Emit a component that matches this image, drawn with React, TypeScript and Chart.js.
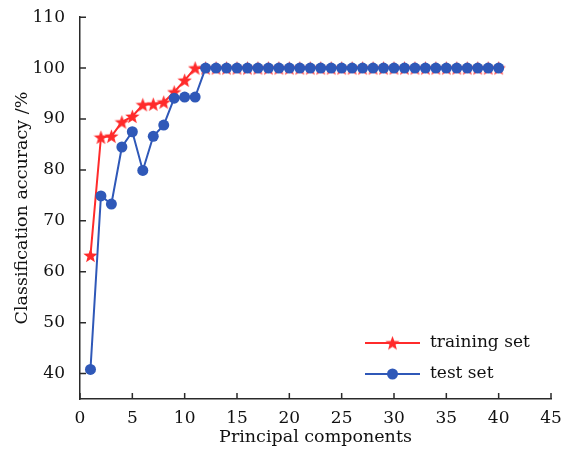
import React, { useEffect, useRef } from "react";
import { Chart, registerables } from "chart.js";

Chart.register(...registerables);

const components = Array.from({ length: 40 }, (_, i) => i + 1);
const trainingSet = [
  63.2, 86.4, 86.6, 89.4, 90.5, 92.8, 92.9, 93.3, 95.3, 97.6,
  100, 100, 100, 100, 100, 100, 100, 100, 100, 100,
  100, 100, 100, 100, 100, 100, 100, 100, 100, 100,
  100, 100, 100, 100, 100, 100, 100, 100, 100, 100,
];
const testSet = [
  40.8, 74.9, 73.3, 84.5, 87.5, 79.9, 86.6, 88.8, 94.1, 94.3,
  94.3, 100, 100, 100, 100, 100, 100, 100, 100, 100,
  100, 100, 100, 100, 100, 100, 100, 100, 100, 100,
  100, 100, 100, 100, 100, 100, 100, 100, 100, 100,
];
const xTicks = [0, 5, 10, 15, 20, 25, 30, 35, 40, 45];
const yTicks = [40, 50, 60, 70, 80, 90, 100, 110];
const seriesNames = ["training set", "test set"];

const RED = "#ff2b2b";
const BLUE = "#2f58b8";
const FONT = "'DejaVu Serif', 'Liberation Serif', serif";
const AXIS = "#2a2a2a";
const TEXT = "#111111";

function makeStar(color: string, size: number) {
  const c = document.createElement("canvas");
  c.width = size;
  c.height = size;
  const ctx = c.getContext("2d")!;
  const cx = size / 2, cy = size / 2;
  const R = size / 2, r = R * 0.42;
  ctx.beginPath();
  for (let i = 0; i < 10; i++) {
    const rad = i % 2 === 0 ? R : r;
    const a = -Math.PI / 2 + (i * Math.PI) / 5;
    const px = cx + rad * Math.cos(a);
    const py = cy + rad * Math.sin(a) + size * 0.04;
    if (i === 0) ctx.moveTo(px, py);
    else ctx.lineTo(px, py);
  }
  ctx.closePath();
  ctx.fillStyle = color;
  ctx.fill();
  return c;
}

const innerTicks = {
  id: "innerTicks",
  afterDraw(chart: any) {
    const ctx = chart.ctx;
    const xs = chart.scales.x;
    const ys = chart.scales.y;
    const area = chart.chartArea;
    ctx.save();
    ctx.strokeStyle = AXIS;
    ctx.lineWidth = 1.5;
    ctx.beginPath();
    xs.ticks.forEach((t: any) => {
      const px = xs.getPixelForValue(t.value);
      ctx.moveTo(px, area.bottom);
      ctx.lineTo(px, area.bottom - 6);
    });
    ys.ticks.forEach((t: any) => {
      const py = ys.getPixelForValue(t.value);
      ctx.moveTo(area.left, py);
      ctx.lineTo(area.left + 6, py);
    });
    ctx.stroke();
    ctx.restore();
  },
};

const customLegend = {
  id: "customLegend",
  afterDraw(chart: any) {
    const ctx = chart.ctx;
    const area = chart.chartArea;
    const x0 = area.right - 186;
    const x1 = x0 + 55;
    const rows = [area.bottom - 56, area.bottom - 25];
    ctx.save();
    chart.data.datasets.forEach((ds: any, i: number) => {
      const y = rows[i];
      ctx.strokeStyle = ds.borderColor;
      ctx.lineWidth = 2;
      ctx.beginPath();
      ctx.moveTo(x0, y);
      ctx.lineTo(x1, y);
      ctx.stroke();
      const mx = (x0 + x1) / 2;
      if (ds.pointStyle instanceof HTMLCanvasElement) {
        const img = ds.pointStyle;
        ctx.drawImage(img, mx - img.width / 2, y - img.height / 2);
      } else {
        ctx.fillStyle = ds.pointBackgroundColor;
        ctx.beginPath();
        ctx.arc(mx, y, ds.pointRadius, 0, Math.PI * 2);
        ctx.fill();
      }
      ctx.fillStyle = TEXT;
      ctx.font = `17px ${FONT}`;
      ctx.textBaseline = "middle";
      ctx.textAlign = "left";
      ctx.fillText(ds.label, x1 + 10, y);
    });
    ctx.restore();
  },
};

export default function App() {
  const ref = useRef<HTMLCanvasElement>(null);
  useEffect(() => {
    document.body.style.margin = "0";
    const star = makeStar(RED, 15);
    const chart = new Chart(ref.current!, {
      type: "line",
      data: {
        datasets: [
          {
            label: seriesNames[0],
            data: components.map((x, i) => ({ x, y: trainingSet[i] })),
            borderColor: RED,
            backgroundColor: RED,
            borderWidth: 2,
            pointStyle: star as any,
            pointRadius: 7,
            pointBackgroundColor: RED,
            order: 1,
          },
          {
            label: seriesNames[1],
            data: components.map((x, i) => ({ x, y: testSet[i] })),
            borderColor: BLUE,
            backgroundColor: BLUE,
            borderWidth: 2,
            pointStyle: "circle",
            pointRadius: 5.5,
            pointBorderWidth: 0,
            pointBackgroundColor: BLUE,
            order: 0,
          },
        ],
      },
      options: {
        responsive: false,
        animation: false,
        layout: { padding: { top: 14, right: 27, left: 12, bottom: 0 } },
        plugins: { legend: { display: false }, tooltip: { enabled: false } },
        scales: {
          x: {
            type: "linear",
            min: 0,
            max: 45,
            afterBuildTicks: (s: any) => {
              s.ticks = xTicks.map((v) => ({ value: v }));
            },
            afterFit: (s: any) => {
              s.height = 52;
            },
            grid: { display: false },
            border: { display: true, color: AXIS, width: 1.5 },
            ticks: {
              color: TEXT,
              font: { family: FONT, size: 17 },
              padding: 1,
              maxRotation: 0,
            },
            title: {
              display: true,
              text: "Principal components",
              color: TEXT,
              font: { family: FONT, size: 17.5 },
              padding: { top: 0, bottom: 3 },
            },
          },
          y: {
            type: "linear",
            min: 35,
            max: 110,
            afterBuildTicks: (s: any) => {
              s.ticks = yTicks.map((v) => ({ value: v }));
            },
            afterFit: (s: any) => {
              s.width = 68;
            },
            grid: { display: false },
            border: { display: true, color: AXIS, width: 1.5 },
            ticks: {
              color: TEXT,
              font: { family: FONT, size: 17 },
              padding: 7,
            },
            title: {
              display: true,
              text: "Classification accuracy /%",
              color: TEXT,
              font: { family: FONT, size: 17.5 },
              padding: { top: 0, bottom: 0 },
            },
          },
        },
      },
      plugins: [innerTicks, customLegend],
    });
    return () => chart.destroy();
  }, []);
  return <canvas ref={ref} width={578} height={451} style={{ display: "block" }} />;
}
